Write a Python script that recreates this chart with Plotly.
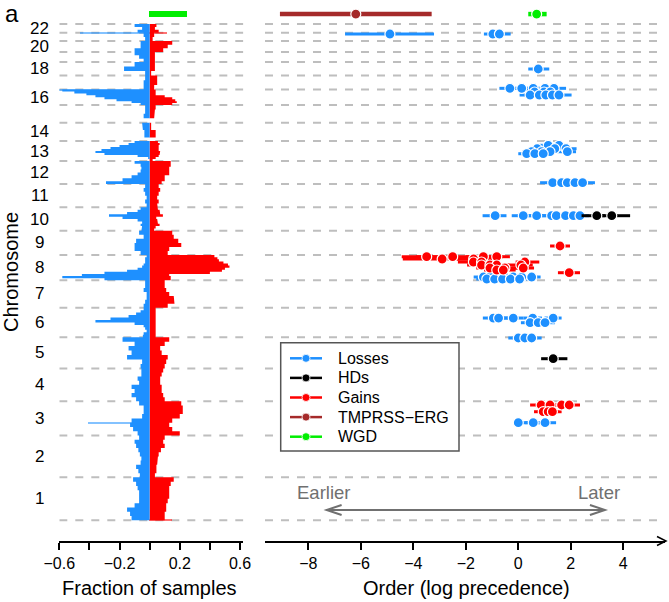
import plotly.graph_objects as go

# ---------------------------------------------------------------- data
CHROMS = list(range(1, 23))
CHROM_LEN_MB = [249, 243, 198, 191, 181, 171, 159, 146, 141, 136, 135,
                134, 115, 107, 102, 90, 81, 78, 59, 63, 48, 51]
CHROM_TICK_LABELS = ["1", "2", "3", "4", "5", "6", "7", "8", "9", "10", "11",
                     "12", "13", "14", "", "16", "", "18", "", "20", "", "22"]

# fraction of samples with a gain / loss, equal-width bins from p-ter to q-ter
GAIN_FRAC = {
    1: [0.10, 0.10, 0.11, 0.11, 0.12, 0.13, 0.13, 0.13, 0.14, 0.16],
    2: [0.035, 0.045, 0.045, 0.05, 0.055, 0.06, 0.075, 0.10, 0.09, 0.10],
    3: [0.20, 0.15, 0.13, 0.15, 0.20, 0.22, 0.22, 0.21],
    4: [0.10, 0.09, 0.08, 0.08, 0.07, 0.07, 0.08, 0.09],
    5: [0.10, 0.11, 0.12, 0.08, 0.07, 0.10, 0.13],
    6: [0.04, 0.04, 0.035, 0.035, 0.035, 0.04, 0.035, 0.035, 0.035, 0.035,
        0.04, 0.04],
    7: [0.12, 0.165, 0.16, 0.13, 0.11, 0.10, 0.10],
    8: [0.14, 0.14, 0.13, 0.40, 0.48, 0.50, 0.53, 0.52, 0.49, 0.46, 0.45, 0.43],
    9: [0.12, 0.13, 0.21, 0.19, 0.16, 0.15],
    10: [0.03, 0.04, 0.066, 0.055, 0.05, 0.044, 0.088, 0.07, 0.066, 0.055],
    11: [0.05, 0.06, 0.05, 0.06, 0.07, 0.06],
    12: [0.08, 0.10, 0.10, 0.13, 0.13, 0.13, 0.14, 0.14],
    13: [0.02, 0.04, 0.06, 0.066, 0.07, 0.06, 0.055, 0.06, 0.066, 0.055],
    14: [0.0, 0.04, 0.04, 0.01, 0.01],
    15: [0.0, 0.03, 0.035, 0.04],
    16: [0.15, 0.18, 0.17, 0.15, 0.10, 0.04, 0.04, 0.04],
    17: [0.03, 0.05, 0.05],
    18: [0.01, 0.035, 0.035],
    19: [0.04, 0.04, 0.035],
    20: [0.09, 0.12, 0.15],
    21: [0.02, 0.03],
    22: [0.06, 0.035, 0.045],
}
LOSS_FRAC = {
    1: [-0.12, -0.13, -0.15, -0.10, -0.07, -0.07, -0.07, -0.08, -0.09, -0.11],
    2: [-0.065, -0.075, -0.09, -0.06, -0.055, -0.065, -0.075, -0.09, -0.10, -0.07],
    3: [-0.08, -0.11, -0.13, -0.12, -0.05, -0.04, -0.04, -0.07],
    4: [-0.09, -0.12, -0.10, -0.12, -0.07, -0.08, -0.055, -0.055],
    5: [-0.06, -0.05, -0.15, -0.12, -0.14, -0.10, -0.18],
    6: [-0.045, -0.04, -0.02, -0.03, -0.04, -0.10, -0.36, -0.26, -0.14, -0.09,
        -0.06, -0.04],
    7: [-0.04, -0.03, -0.02, -0.02, -0.04, -0.03, -0.03],
    8: [-0.30, -0.58, -0.45, -0.30, -0.15, -0.08, -0.05, -0.04, -0.03, -0.03,
        -0.03, -0.02],
    9: [-0.06, -0.10, -0.10, -0.09, -0.04, -0.07],
    10: [-0.055, -0.05, -0.06, -0.05, -0.08, -0.18, -0.27, -0.15, -0.08, -0.06],
    11: [-0.02, -0.03, -0.02, -0.03, -0.04, -0.03],
    12: [-0.29, -0.18, -0.12, -0.08, -0.06, -0.055, -0.06, -0.10],
    13: [0.0, -0.01, -0.08, -0.30, -0.36, -0.32, -0.26, -0.20, -0.14, -0.10],
    14: [0.0, -0.035, -0.035, -0.045, -0.05],
    15: [0.0, -0.04, -0.03, -0.03],
    16: [-0.06, -0.12, -0.22, -0.30, -0.36, -0.42, -0.50, -0.58],
    17: [-0.04, -0.04, -0.03],
    18: [-0.03, -0.17, -0.10],
    19: [-0.04, -0.07, -0.10],
    20: [-0.10, -0.06, -0.06],
    21: [-0.03, -0.04],
    22: [-0.08, -0.05, -0.10],
}

# narrow focal peaks (chromosome, position Mb, fraction)
SPIKE_CHROM = [3, 16, 21, 21, 1]
SPIKE_POS = [72, 89, 45, 45, 3]
SPIKE_FRAC = [-0.41, -0.61, -0.46, 0.12, 0.15]

# homozygous deletions (chromosome, position Mb, extent Mb, fraction)
HD_CHROM = [1, 2, 3, 5, 6, 8, 9, 10, 10, 13, 13, 16, 17, 18, 19, 22, 22]
HD_POS = [9, 120, 72, 103, 87, 15, 35, 89, 111, 49, 93, 61, 6, 33, 3, 12, 29]
HD_LEN = [12, 12, 12, 58, 12, 12, 12, 12, 12, 12, 12, 12, 12, 12, 12, 12, 12]
HD_FRAC = [-0.02, -0.02, -0.025, -0.025, -0.02, -0.025, -0.02, -0.03, -0.025,
           -0.02, -0.015, -0.02, -0.02, -0.015, -0.015, -0.02, -0.02]

WGD_FRACTION = 0.25

# timing estimates: (chromosome, position Mb, estimate, lower, upper)
LOSS_EVENTS = [
    (21, 40.9, -4.89, -6.60, -3.21), (21, 40.9, -0.97, -1.31, -0.62),
    (21, 40.9, -0.72, -1.00, -0.29),
    (18, 38.0, 0.76, 0.38, 1.18),
    (16, 97.0, -0.32, -0.72, 0.02), (16, 97.0, 0.13, -0.15, 0.42),
    (16, 97.0, 0.57, 0.28, 0.86), (16, 97.0, 1.02, 0.72, 1.32),
    (16, 97.0, 1.36, 1.02, 1.82),
    (16, 75.7, 0.62, 0.30, 0.95), (16, 75.7, 0.98, 0.65, 1.30),
    (16, 75.7, 1.22, 0.90, 1.60),
    (16, 58.2, 0.45, 0.05, 0.80), (16, 58.2, 0.80, 0.45, 1.15),
    (16, 58.2, 1.05, 0.70, 1.40), (16, 58.2, 1.30, 0.95, 1.70),
    (16, 58.2, 1.55, 1.20, 2.03),
    (13, 90.5, 1.14, 0.80, 1.50), (13, 90.5, 1.55, 1.20, 1.90),
    (13, 70.8, 0.72, 0.40, 1.05), (13, 70.8, 1.39, 1.05, 1.75),
    (13, 70.8, 1.82, 1.50, 2.22),
    (13, 53.4, 0.51, 0.15, 0.85), (13, 53.4, 0.89, 0.55, 1.20),
    (13, 53.4, 1.21, 0.85, 1.55), (13, 53.4, 1.87, 1.55, 2.20),
    (13, 41.8, 0.32, 0.00, 0.65), (13, 41.8, 0.63, 0.30, 0.95),
    (13, 41.8, 0.95, 0.60, 1.30),
    (12, 7.7, 1.31, 0.83, 1.70), (12, 7.7, 1.65, 1.30, 2.00),
    (12, 7.7, 1.87, 1.50, 2.25), (12, 7.7, 2.16, 1.80, 2.55),
    (12, 7.7, 2.45, 2.05, 2.92),
    (10, 87.3, -0.88, -1.36, -0.45), (10, 87.3, 0.19, -0.25, 0.50),
    (10, 87.3, 0.70, 0.35, 1.05), (10, 87.3, 1.27, 0.90, 1.60),
    (10, 87.3, 1.45, 1.10, 1.80), (10, 87.3, 1.80, 1.45, 2.15),
    (10, 87.3, 2.10, 1.75, 2.45), (10, 87.3, 2.35, 2.00, 2.70),
    (8, 18.8, -1.33, -1.70, -0.95), (8, 18.8, -1.08, -1.45, -0.70),
    (8, 18.8, -0.76, -1.15, -0.40), (8, 18.8, -0.51, -0.90, -0.15),
    (8, 18.8, -0.19, -0.55, 0.15), (8, 18.8, 0.13, -0.20, 0.45),
    (8, 18.8, 0.51, 0.15, 0.85),
    (8, 7.2, -1.20, -1.60, -0.85), (8, 7.2, -0.90, -1.25, -0.55),
    (8, 7.2, -0.60, -0.95, -0.25), (8, 7.2, -0.30, -0.65, 0.05),
    (8, 7.2, 0.05, -0.30, 0.40),
    (6, 111.0, -0.95, -1.35, -0.55), (6, 111.0, -0.75, -1.15, -0.40),
    (6, 111.0, -0.19, -0.60, 0.20), (6, 111.0, 0.55, 0.20, 0.90),
    (6, 111.0, 1.33, 1.00, 1.65),
    (6, 83.8, 0.45, 0.10, 0.80), (6, 83.8, 0.76, 0.40, 1.10),
    (6, 83.8, 1.02, 0.70, 1.40),
    (5, 176.1, 0.00, -0.38, 0.35), (5, 176.1, 0.25, -0.10, 0.60),
    (5, 176.1, 0.51, 0.15, 0.89),
    (3, 73.9, 0.00, -0.13, 0.35), (3, 73.9, 0.57, 0.25, 0.90),
    (3, 73.9, 1.02, 0.70, 1.44),
]
HD_EVENTS = [
    (10, 87.3, 2.99, 2.41, 3.30), (10, 87.3, 3.56, 3.20, 4.26),
    (5, 56.1, 1.33, 0.87, 1.87),
]
GAIN_EVENTS = [
    (9, 52.7, 1.59, 1.21, 1.97),
    (8, 136.6, -3.49, -4.44, -2.60), (8, 136.6, -2.50, -3.90, -1.20),
    (8, 136.6, -1.33, -2.00, -0.60), (8, 136.6, -0.82, -1.30, -0.32),
    (8, 123.2, -2.90, -4.40, -1.70), (8, 123.2, -1.70, -2.40, -1.00),
    (8, 105.8, -1.71, -2.30, -1.20), (8, 105.8, -1.40, -1.90, -0.90),
    (8, 105.8, 0.25, -0.10, 0.80),
    (8, 88.4, -1.40, -1.95, -0.85), (8, 88.4, -1.08, -1.60, -0.60),
    (8, 88.4, -0.82, -1.30, -0.35), (8, 88.4, 0.10, -0.40, 0.55),
    (8, 71.0, -1.08, -1.60, -0.60), (8, 71.0, -0.51, -1.00, 0.00),
    (8, 71.0, 0.19, -0.25, 0.60),
    (8, 59.4, -0.82, -1.30, -0.35), (8, 59.4, -0.57, -1.00, -0.10),
    (8, 43.8, 1.94, 1.51, 2.35),
    (3, 176.6, 0.87, 0.45, 1.25), (3, 176.6, 1.21, 0.85, 1.60),
    (3, 176.6, 1.65, 1.30, 2.00), (3, 176.6, 1.94, 1.55, 2.35),
    (3, 137.7, 0.95, 0.60, 1.30), (3, 137.7, 1.14, 0.80, 1.50),
    (3, 137.7, 1.30, 0.95, 1.65),
]
# genome-wide events: (estimate, lower, upper)
TMPRSS_ERG_EVENT = (-6.19, -9.08, -3.30)
WGD_EVENT = (0.70, 0.38, 1.08)

LEGEND_LABELS = ["Losses", "HDs", "Gains", "TMPRSS\u2212ERG", "WGD"]

# ---------------------------------------------------------------- style
BLUE = "#1E90FF"
RED = "#FF0000"
BROWN = "#A52A2A"
GREEN = "#00EE00"
BLACK = "#000000"
GRID = "#BEBEBE"
LEGEND_COLORS = [BLUE, BLACK, RED, BROWN, GREEN]
FONT = "Liberation Sans, Arial, Helvetica, sans-serif"

W, H = 669, 602
MARGIN_B = 61
PLOT_H = H - MARGIN_B

GENOME_MB = sum(CHROM_LEN_MB)
OFFSET = {}
acc = 0
for c, L in zip(CHROMS, CHROM_LEN_MB):
    OFFSET[c] = acc
    acc += L
TOP_ROW = GENOME_MB * 1.02
Y_RANGE = [-120.0, GENOME_MB + 139.2]
X1_RANGE = [-0.6, 0.6226]
X2_RANGE = [-9.649, 5.589]


def px_x(px):
    return px / W


def px_y(py):
    return (PLOT_H - py) / PLOT_H


def gpos(chrom, pos):
    return OFFSET[chrom] + pos


def step_profile(frac):
    xs, ys = [0.0], [0.0]
    for c, L in zip(CHROMS, CHROM_LEN_MB):
        vals = frac[c]
        w = L / len(vals)
        for i, v in enumerate(vals):
            y0 = OFFSET[c] + i * w
            xs += [v, v]
            ys += [y0, y0 + w]
    xs.append(0.0)
    ys.append(ys[-1])
    return xs, ys


fig = go.Figure()

# ---------------------------------------------------------------- left panel
for frac, col in ((GAIN_FRAC, RED), (LOSS_FRAC, BLUE)):
    xs, ys = step_profile(frac)
    fig.add_trace(go.Scatter(x=xs, y=ys, mode="lines", fill="tozerox",
                             fillcolor=col, line=dict(width=0, color=col),
                             xaxis="x", yaxis="y", hoverinfo="skip",
                             showlegend=False))

fig.add_trace(go.Bar(
    x=SPIKE_FRAC, y=[gpos(c, p) for c, p in zip(SPIKE_CHROM, SPIKE_POS)],
    width=[4] * len(SPIKE_FRAC), orientation="h",
    marker=dict(color=[RED if v > 0 else BLUE for v in SPIKE_FRAC],
                line=dict(width=0)),
    opacity=0.55, xaxis="x", yaxis="y", showlegend=False, hoverinfo="skip"))

fig.add_trace(go.Bar(
    x=HD_FRAC, y=[gpos(c, p) for c, p in zip(HD_CHROM, HD_POS)],
    width=HD_LEN, orientation="h",
    marker=dict(color=BLACK, line=dict(width=0)),
    xaxis="x", yaxis="y", showlegend=False, hoverinfo="skip"))

fig.add_trace(go.Bar(
    x=[WGD_FRACTION], y=[TOP_ROW], width=[34], orientation="h",
    marker=dict(color=GREEN, line=dict(width=0)),
    xaxis="x", yaxis="y", showlegend=False, hoverinfo="skip"))


# ---------------------------------------------------------------- right panel
def add_events(events, color, lw=3.0, msize=10):
    lx, ly, mx, my = [], [], [], []
    for ev in events:
        if len(ev) == 5:
            c, p, est, lo, hi = ev
            yy = gpos(c, p)
        else:
            est, lo, hi = ev
            yy = TOP_ROW
        lx += [lo, hi, None]
        ly += [yy, yy, None]
        mx.append(est)
        my.append(yy)
    fig.add_trace(go.Scatter(x=lx, y=ly, mode="lines",
                             line=dict(color=color, width=lw),
                             xaxis="x2", yaxis="y", showlegend=False,
                             hoverinfo="skip"))
    fig.add_trace(go.Scatter(x=mx, y=my, mode="markers",
                             marker=dict(color=color, size=msize,
                                         line=dict(color="white", width=1.2)),
                             xaxis="x2", yaxis="y", showlegend=False))


add_events(LOSS_EVENTS, BLUE)
add_events(HD_EVENTS, BLACK)
add_events(GAIN_EVENTS, RED)
add_events([TMPRSS_ERG_EVENT], BROWN, lw=4.5, msize=10)
add_events([WGD_EVENT], GREEN, lw=4.5, msize=10)

# ---------------------------------------------------------------- shapes
shapes = []
bounds = [OFFSET[c] for c in CHROMS] + [GENOME_MB]
for b in bounds:
    shapes.append(dict(type="line", xref="x", yref="y", x0=X1_RANGE[0],
                       x1=X1_RANGE[1], y0=b, y1=b, layer="below",
                       line=dict(color=GRID, width=2, dash="8px,8px")))
    shapes.append(dict(type="line", xref="x2", yref="y", x0=X2_RANGE[0],
                       x1=5.4, y0=b, y1=b, layer="below",
                       line=dict(color=GRID, width=2, dash="8px,8px")))

# arrowhead closing the order axis
shapes.append(dict(type="path", xref="paper", yref="paper",
                   path=f"M {px_x(657)},{px_y(536.5)} L {px_x(666)},{px_y(541)} "
                        f"L {px_x(657)},{px_y(545.5)}",
                   line=dict(color=BLACK, width=1.5)))

# Earlier / Later double arrow
ARROW_Y = 60.0
ARROW_X = (-7.30, 3.30)
ARROW_GRAY = "#707070"
head_dy = 29.0
head_dx = 0.57
shapes.append(dict(type="line", xref="x2", yref="y", x0=ARROW_X[0], x1=ARROW_X[1],
                   y0=ARROW_Y, y1=ARROW_Y, line=dict(color=ARROW_GRAY, width=2)))
shapes.append(dict(type="path", xref="x2", yref="y",
                   path=f"M {ARROW_X[0] + head_dx},{ARROW_Y + head_dy} L {ARROW_X[0]},{ARROW_Y} "
                        f"L {ARROW_X[0] + head_dx},{ARROW_Y - head_dy}",
                   line=dict(color=ARROW_GRAY, width=2)))
shapes.append(dict(type="path", xref="x2", yref="y",
                   path=f"M {ARROW_X[1] - head_dx},{ARROW_Y + head_dy} L {ARROW_X[1]},{ARROW_Y} "
                        f"L {ARROW_X[1] - head_dx},{ARROW_Y - head_dy}",
                   line=dict(color=ARROW_GRAY, width=2)))

# legend box
LEG_X0, LEG_X1, LEG_Y0, LEG_Y1 = 280.7, 459.0, 342.7, 451.0
shapes.append(dict(type="rect", xref="paper", yref="paper",
                   x0=px_x(LEG_X0), x1=px_x(LEG_X1), y0=px_y(LEG_Y1), y1=px_y(LEG_Y0),
                   fillcolor="white", line=dict(color="#555555", width=1.5),
                   layer="above"))
annotations = []
for i, (lab, col) in enumerate(zip(LEGEND_LABELS, LEGEND_COLORS)):
    yy = px_y(358.3 + i * 19.6)
    shapes.append(dict(type="line", xref="paper", yref="paper",
                       x0=px_x(290), x1=px_x(322), y0=yy, y1=yy,
                       line=dict(color=col, width=2.5), layer="above"))
    shapes.append(dict(type="circle", xref="paper", yref="paper",
                       xsizemode="pixel", ysizemode="pixel",
                       xanchor=px_x(306), yanchor=yy, x0=-4, x1=4, y0=-4, y1=4,
                       fillcolor=col, line=dict(color="white", width=0.8),
                       layer="above"))
    annotations.append(dict(xref="paper", yref="paper", x=px_x(336), y=yy,
                            text=lab, showarrow=False, xanchor="left",
                            yanchor="middle", font=dict(size=16, color=BLACK)))

# ---------------------------------------------------------------- text
for c, lab in zip(CHROMS, CHROM_TICK_LABELS):
    if lab:
        annotations.append(dict(xref="paper", yref="y", x=px_x(39.5),
                                y=OFFSET[c] + CHROM_LEN_MB[c - 1] / 2, text=lab,
                                showarrow=False, xanchor="center",
                                yanchor="middle", font=dict(size=17)))


def centered(x, y, text, size, **kw):
    d = dict(x=x, y=y, text=text, showarrow=False, xanchor="center",
             yanchor="middle", font=dict(size=size, color=kw.pop("color", BLACK)))
    d.update(kw)
    return d


annotations += [
    centered(px_x(11), px_y(272), "Chromosome", 20, xref="paper", yref="paper",
             textangle=-90),
    centered(px_x(12), px_y(14), "a", 24, xref="paper", yref="paper"),
    centered(px_x(149.7), px_y(588), "Fraction of samples", 20,
             xref="paper", yref="paper"),
    centered(px_x(466), px_y(588), "Order (log precedence)", 20,
             xref="paper", yref="paper"),
    centered(-7.41, 160, "Earlier", 18.5, xref="x2", yref="y", color=ARROW_GRAY),
    centered(3.06, 160, "Later", 18.5, xref="x2", yref="y", color=ARROW_GRAY),
]

axis_common = dict(showgrid=False, zeroline=False, showline=True,
                   linecolor=BLACK, linewidth=1.5, ticks="outside", ticklen=7,
                   tickwidth=1.5, tickcolor=BLACK, anchor="y", automargin=False,
                   tickfont=dict(size=16, color=BLACK), fixedrange=True)

fig.update_layout(
    width=W, height=H,
    margin=dict(l=0, r=0, t=0, b=MARGIN_B, pad=0, autoexpand=False),
    paper_bgcolor="white", plot_bgcolor="white",
    font=dict(family=FONT, color=BLACK),
    showlegend=False, barmode="overlay", bargap=0,
    xaxis=dict(domain=[px_x(59.3), px_x(243.4)], range=X1_RANGE,
               tickvals=[-0.6, -0.4, -0.2, 0, 0.2, 0.4, 0.6],
               ticktext=["\u22120.6", "", "\u22120.2", "", "0.2", "", "0.6"],
               **axis_common),
    xaxis2=dict(domain=[px_x(265), px_x(665)], range=X2_RANGE,
                tickvals=[-8, -6, -4, -2, 0, 2, 4],
                ticktext=["\u22128", "\u22126", "\u22124", "\u22122", "0", "2", "4"],
                **axis_common),
    yaxis=dict(domain=[0, 1], range=Y_RANGE, showgrid=False, zeroline=False,
               showticklabels=False, showline=False, ticks="", fixedrange=True,
               automargin=False),
    shapes=shapes,
    annotations=annotations,
)

fig.write_html("out.html")
